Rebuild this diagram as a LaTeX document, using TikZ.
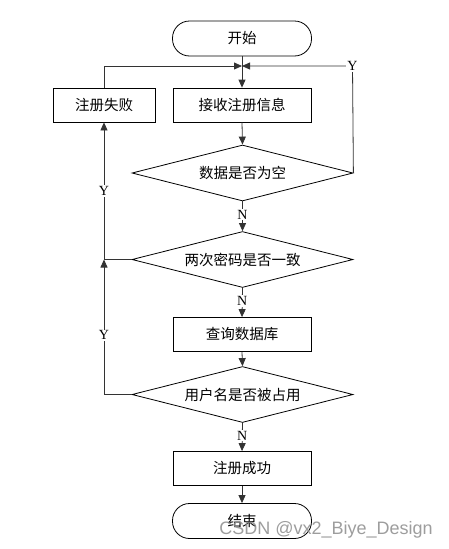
\documentclass[tikz,border=0pt]{standalone}
\usepackage{fontspec}
\setmainfont{Liberation Serif}
\newfontfamily\cjk{Noto Sans CJK SC}
\newfontfamily\wm{Liberation Sans}
\usetikzlibrary{shapes.geometric,arrows.meta}
\begin{document}
\begin{tikzpicture}[x=1pt,y=-1pt,
  every node/.style={font=\cjk\fontsize{14.5}{17}\selectfont},
  procbox/.style={draw,line width=0.8pt,minimum width=138pt,minimum height=34pt,inner sep=0pt},
  termbox/.style={draw,line width=0.8pt,rounded corners=17pt,minimum width=139pt,minimum height=35pt,inner sep=0pt},
  decbox/.style={draw,line width=0.8pt,diamond,minimum width=221pt,minimum height=56pt,inner sep=0pt,aspect=3},
  conn/.style={line width=0.8pt,draw=black!80},
  arr/.style={conn,-{Triangle[length=8pt,width=7pt]}},
  lab/.style={fill=white,inner sep=1pt,font=\fontsize{14}{16}\selectfont}]
\useasboundingbox (0,0) rectangle (449,549);
\node[termbox] (start) at (242,38.5) {开始};
\coordinate (j) at (242,66);
\node[procbox,minimum width=102pt] (fail) at (104,105) {注册失败};
\node[procbox] (recv) at (242,105) {接收注册信息};
\node[decbox] (d1) at (242.5,173) {数据是否为空};
\node[decbox] (d2) at (242.5,259.5) {两次密码是否一致};
\node[procbox] (query) at (242,334.5) {查询数据库};
\node[decbox] (d3) at (242.5,394.5) {用户名是否被占用};
\node[procbox] (ok) at (242,468.5) {注册成功};
\node[termbox] (end) at (242,521) {结束};
\coordinate (m) at (104,259.5);
\coordinate (rc) at (352.5,66);
% connectors
\draw[conn] (start.south) -- (j);
\draw[arr] (j) -- (recv.north);
\draw[arr] (fail.north) |- (j);
\draw[arr] (d1.east) -- (rc) -- (j);
\node[lab] at (rc) {Y};
\draw[arr] (recv.south) -- (d1.north);
\draw[arr] (d1.south) -- node[lab,pos=0.45] {N} (d2.north);
\draw[arr] (d2.west) -- (m) -- node[lab,pos=0.5] {Y} (fail.south);
\draw[arr] (d3.west) -| node[lab,pos=0.72] {Y} (m);
\draw[arr] (d2.south) -- node[lab,pos=0.45] {N} (query.north);
\draw[arr] (query.south) -- (d3.north);
\draw[arr] (d3.south) -- node[lab,pos=0.45] {N} (ok.north);
\draw[arr] (ok.south) -- (end.north);
\node[font=\wm\fontsize{18}{20}\selectfont,text=black!45,fill opacity=0,text opacity=0.85,inner sep=0pt] (wmk) at (326,530) {CSDN @vx2\_Biye\_Design};
\end{tikzpicture}
\end{document}
